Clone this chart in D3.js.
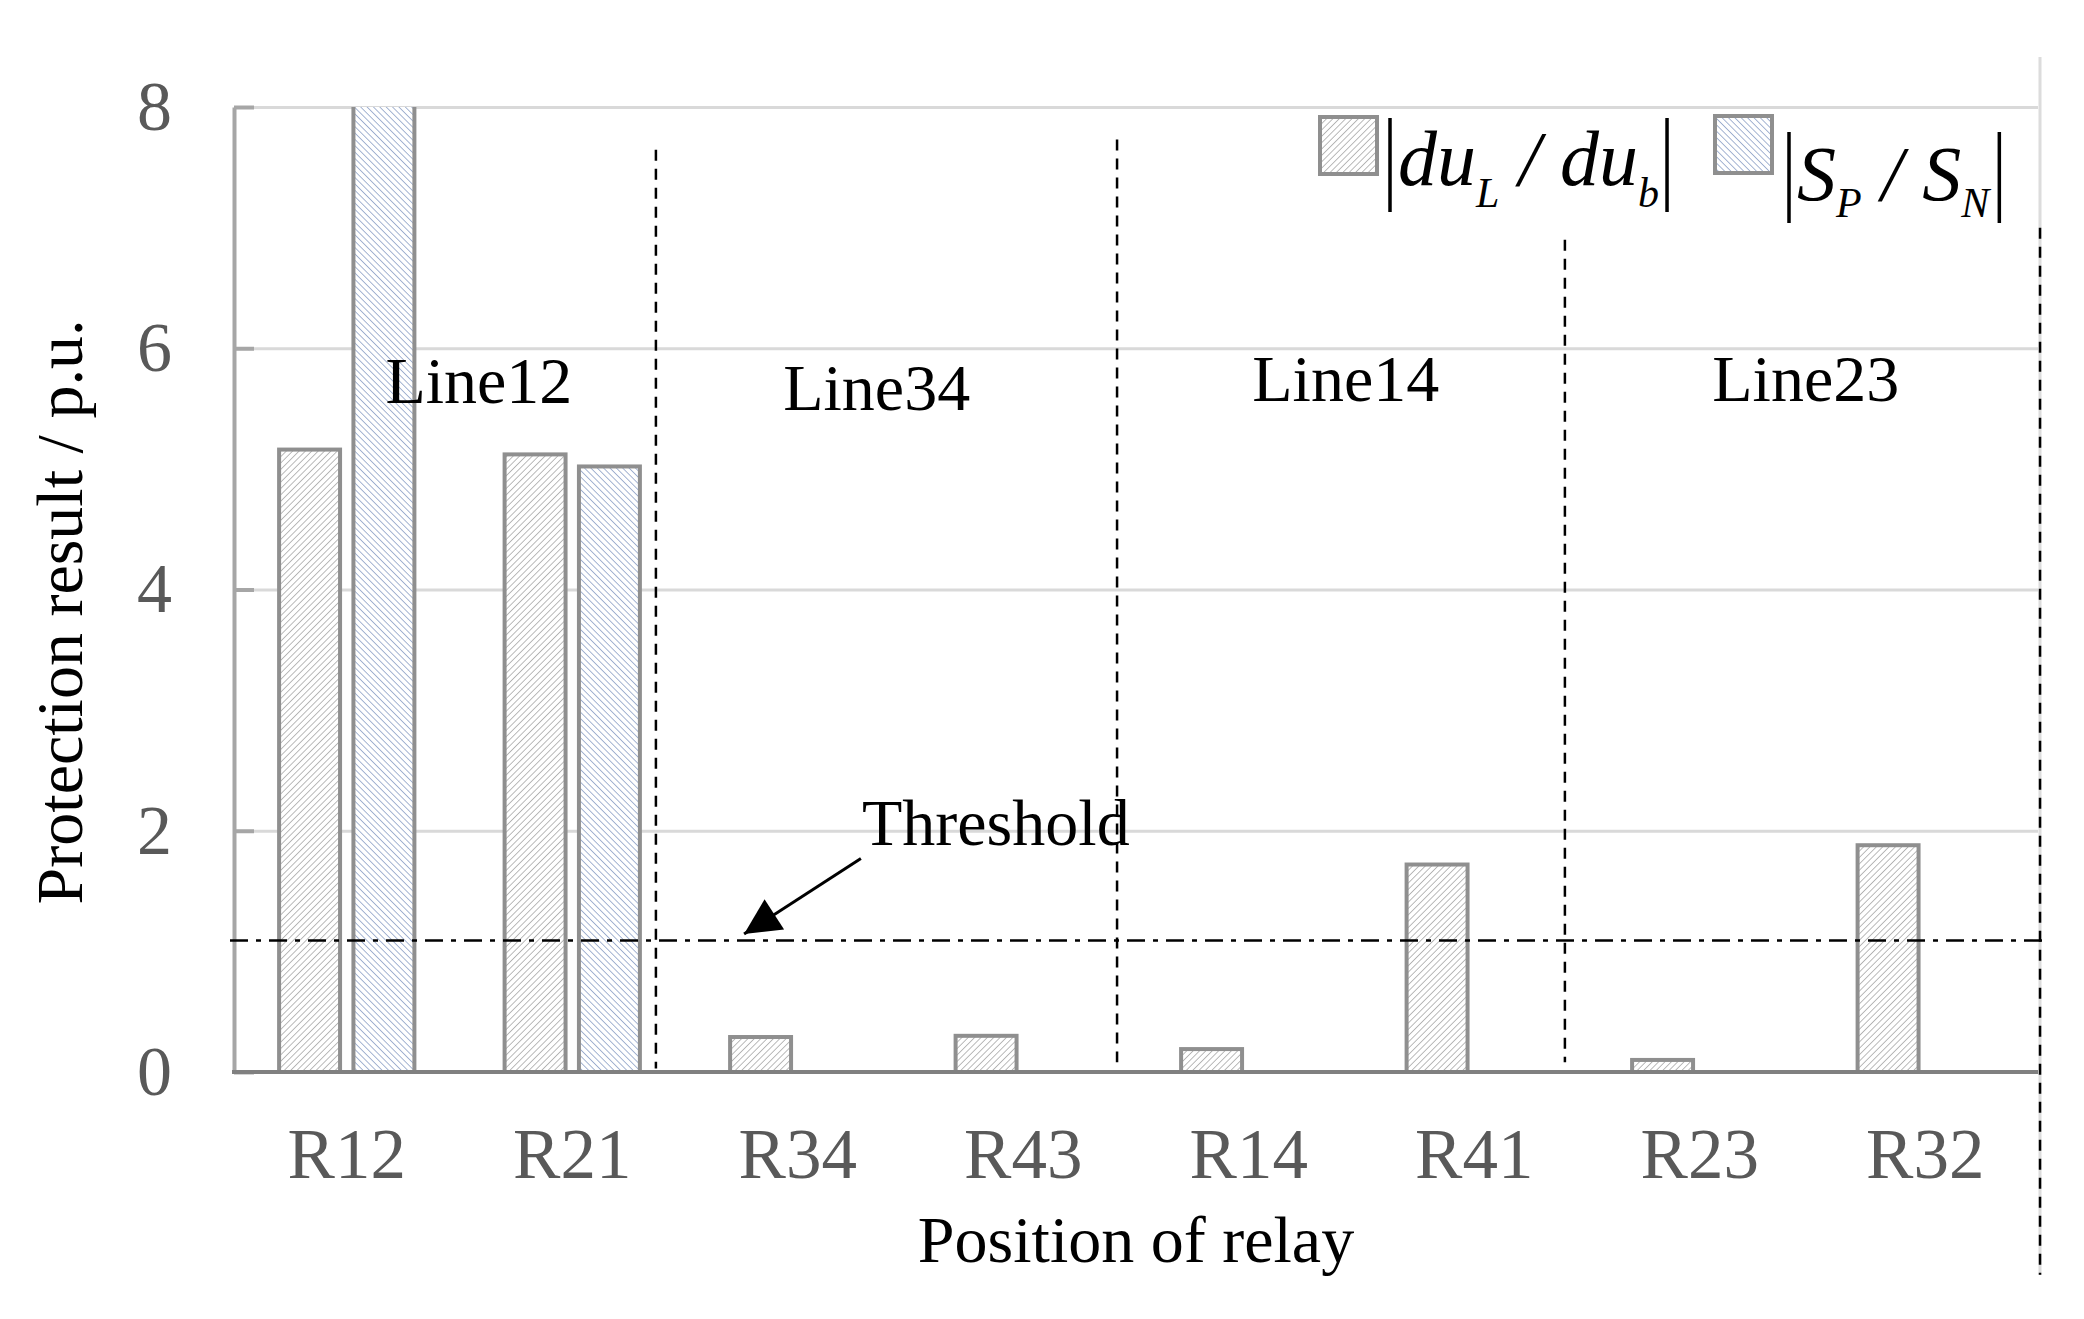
<!DOCTYPE html>
<html lang="en">
	<head>
		<meta charset="utf-8">
		<title>Protection result</title>
		<script type="text/javascript" src="https://cdn.jsdelivr.net/npm/d3@7/dist/d3.min.js"></script>
		<style type="text/css">
			body { margin: 0; background: #fff; }
			text { font-family: "Liberation Serif", "Times New Roman", serif; }
		</style>
	</head>
	<body>
		<script type="text/javascript">
			var w = 2084;
			var h = 1319;

			// data
			var relays = ["R12", "R21", "R34", "R43", "R14", "R41", "R23", "R32"];
			var duRatio = [5.16, 5.12, 0.29, 0.30, 0.19, 1.72, 0.10, 1.88];
			var spRatio = [8.6, 5.02, 0, 0, 0, 0, 0, 0];   // R12 runs off the top
			var yTicks = [0, 2, 4, 6, 8];
			var threshold = 1.09;

			// line groups (positions in category units / y units)
			var lineNames = ["Line12", "Line34", "Line14", "Line23"];
			var lineLabelX = [1.086, 2.85, 4.93, 6.97];
			var lineLabelY = [5.55, 5.49, 5.56, 5.56];
			var sepX = [1.871, 3.916, 5.902, 8.009];
			var sepTop = [7.645, 7.73, 6.9, 7.0];
			var sepBottom = [0.03, 0.08, 0.08, -1.68];

			var pLeft = 234, pRight = 2038, pTop = 107, pBottom = 1072;

			var svg = d3.select("body")
				.append("svg")
				.attr("width", w)
				.attr("height", h);

			// hatch patterns
			var defs = svg.append("defs");
			defs.append("pattern")
				.attr("id", "hatchGray")
				.attr("patternUnits", "userSpaceOnUse")
				.attr("width", 4.5).attr("height", 4.5)
				.attr("patternTransform", "rotate(45)")
				.call(function(p) {
					p.append("rect").attr("width", 4.5).attr("height", 4.5).attr("fill", "#fff");
					p.append("line").attr("x1", 0).attr("y1", 0).attr("x2", 0).attr("y2", 4.5)
						.attr("stroke", "#a9a9a9").attr("stroke-width", 1.6);
				});
			defs.append("pattern")
				.attr("id", "hatchBlue")
				.attr("patternUnits", "userSpaceOnUse")
				.attr("width", 4.5).attr("height", 4.5)
				.attr("patternTransform", "rotate(-45)")
				.call(function(p) {
					p.append("rect").attr("width", 4.5).attr("height", 4.5).attr("fill", "#fff");
					p.append("line").attr("x1", 0).attr("y1", 0).attr("x2", 0).attr("y2", 4.5)
						.attr("stroke", "#8fa3c8").attr("stroke-width", 1.6);
				});
			defs.append("clipPath")
				.attr("id", "plotClip")
				.append("rect")
				.attr("x", pLeft - 10).attr("y", pTop)
				.attr("width", pRight - pLeft + 20).attr("height", pBottom - pTop + 10);

			var x0 = d3.scaleBand().domain(relays).range([pLeft, pRight]);
			var x1 = d3.scaleBand().domain([0, 1])
				.range([x0.bandwidth() * 0.2, x0.bandwidth() * 0.8])
				.paddingInner(0.18);
			var xc = d3.scaleLinear().domain([0, relays.length]).range([pLeft, pRight]);
			var y = d3.scaleLinear().domain([0, 8]).range([pBottom, pTop]);

			// frame line on the right
			svg.append("line")
				.attr("x1", pRight + 2).attr("x2", pRight + 2)
				.attr("y1", 57).attr("y2", 1275)
				.attr("stroke", "#dcdcdc").attr("stroke-width", 3);

			// gridlines
			svg.append("g")
				.attr("transform", "translate(" + pLeft + ",0)")
				.call(d3.axisLeft(y).tickValues(yTicks.slice(1)).tickSize(-(pRight - pLeft)).tickFormat(""))
				.call(function(g) {
					g.select(".domain").remove();
					g.selectAll("line").attr("stroke", "#d9d9d9").attr("stroke-width", 3);
				});

			// bars
			var rows = relays.map(function(r, i) {
				return { relay: r, vals: [duRatio[i], spRatio[i]] };
			});
			var fills = ["url(#hatchGray)", "url(#hatchBlue)"];

			svg.append("g")
				.attr("clip-path", "url(#plotClip)")
				.selectAll("g")
				.data(rows)
				.enter()
				.append("g")
				.attr("transform", function(d) { return "translate(" + x0(d.relay) + ",0)"; })
				.selectAll("rect")
				.data(function(d) {
					return d.vals.map(function(v, k) { return { k: k, v: v }; })
						.filter(function(e) { return e.v > 0; });
				})
				.enter()
				.append("rect")
				.attr("x", function(d) { return x1(d.k); })
				.attr("y", function(d) { return y(d.v); })
				.attr("width", x1.bandwidth())
				.attr("height", function(d) { return y(0) - y(d.v); })
				.attr("fill", function(d) { return fills[d.k]; })
				.attr("stroke", "#8f8f8f")
				.attr("stroke-width", 4);

			// y axis
			svg.append("g")
				.attr("transform", "translate(" + pLeft + ",0)")
				.call(d3.axisLeft(y).tickValues(yTicks).tickSize(-20).tickSizeOuter(0).tickPadding(62))
				.call(function(g) {
					g.select(".domain").attr("stroke", "#a6a6a6").attr("stroke-width", 4);
					g.selectAll(".tick line").attr("stroke", "#a6a6a6").attr("stroke-width", 4);
					g.selectAll(".tick text")
						.attr("font-family", "Liberation Serif")
						.attr("font-size", "70px")
						.attr("fill", "#595959");
				});

			// x axis
			svg.append("g")
				.attr("transform", "translate(0," + pBottom + ")")
				.call(d3.axisBottom(x0).tickSize(0).tickSizeOuter(0))
				.call(function(g) {
					g.select(".domain").attr("stroke", "#808080").attr("stroke-width", 4)
						.attr("d", "M" + (pLeft - 2) + ",0H" + pRight);
					g.selectAll(".tick text")
						.attr("y", 106).attr("dy", null)
						.attr("font-family", "Liberation Serif")
						.attr("font-size", "71px")
						.attr("fill", "#595959");
				});

			// separators between lines
			svg.selectAll(".sep")
				.data(sepX)
				.enter()
				.append("line")
				.attr("class", "sep")
				.attr("x1", function(d) { return xc(d); })
				.attr("x2", function(d) { return xc(d); })
				.attr("y1", function(d, i) { return y(sepTop[i]); })
				.attr("y2", function(d, i) { return y(sepBottom[i]); })
				.attr("stroke", "#000")
				.attr("stroke-width", 2.5)
				.attr("stroke-dasharray", "11,8");

			// threshold
			svg.append("line")
				.attr("x1", pLeft - 4).attr("x2", pRight + 4)
				.attr("y1", y(threshold)).attr("y2", y(threshold))
				.attr("stroke", "#000")
				.attr("stroke-width", 2.5)
				.attr("stroke-dasharray", "18,8,5,8");

			defs.append("marker")
				.attr("id", "arrow")
				.attr("viewBox", "0 0 10 10")
				.attr("refX", 10).attr("refY", 5)
				.attr("markerWidth", 15).attr("markerHeight", 12)
				.attr("markerUnits", "strokeWidth")
				.attr("orient", "auto")
				.append("path")
				.attr("d", "M0,0L10,5L0,10Z")
				.attr("fill", "#000");

			svg.append("line")
				.attr("x1", xc(2.78)).attr("y1", y(1.77))
				.attr("x2", xc(2.262)).attr("y2", y(1.144))
				.attr("stroke", "#000")
				.attr("stroke-width", 3)
				.attr("marker-end", "url(#arrow)");

			svg.append("text")
				.attr("x", xc(2.785))
				.attr("y", y(1.88))
				.attr("font-size", "66px")
				.attr("fill", "#000")
				.text("Threshold");

			// line names
			svg.selectAll(".lineName")
				.data(lineNames)
				.enter()
				.append("text")
				.attr("class", "lineName")
				.attr("x", function(d, i) { return xc(lineLabelX[i]); })
				.attr("y", function(d, i) { return y(lineLabelY[i]); })
				.attr("text-anchor", "middle")
				.attr("font-size", "66px")
				.attr("fill", "#000")
				.text(function(d) { return d; });

			// axis titles
			svg.append("text")
				.attr("transform", "translate(82,612) rotate(-90)")
				.attr("text-anchor", "middle")
				.attr("font-size", "66px")
				.attr("fill", "#000")
				.text("Protection result / p.u.");

			svg.append("text")
				.attr("x", (pLeft + pRight) / 2)
				.attr("y", 1262)
				.attr("text-anchor", "middle")
				.attr("font-size", "66px")
				.attr("fill", "#000")
				.text("Position of relay");

			// legend
			var legend = [
				{ fill: fills[0], bx: 1320, by: 117, tx: 1398, ty: 185, sub: 22, barTop: 118, barBot: 212,
				  parts: [["du", 0], ["L", 1], [" / ", 0], ["du", 0], ["b", 1]] },
				{ fill: fills[1], bx: 1715, by: 116, tx: 1797, ty: 200, sub: 17, barTop: 132, barBot: 223,
				  parts: [["S", 0], ["P", 1], [" / ", 0], ["S", 0], ["N", 1]] }
			];

			legend.forEach(function(L) {
				svg.append("rect")
					.attr("x", L.bx).attr("y", L.by)
					.attr("width", 57).attr("height", 57)
					.attr("fill", L.fill)
					.attr("stroke", "#8f8f8f")
					.attr("stroke-width", 4);

				var t = svg.append("text")
					.attr("x", L.tx).attr("y", L.ty)
					.attr("font-style", "italic")
					.attr("font-size", "78px")
					.attr("fill", "#000")
					.attr("xml:space", "preserve")
					.style("white-space", "pre");
				var level = 0;
				L.parts.forEach(function(p) {
					var shift = (p[1] - level) * L.sub;
					level = p[1];
					t.append("tspan")
						.attr("dy", shift)
						.attr("font-size", p[1] ? "42px" : "78px")
						.text(p[0]);
				});
				var bb = t.node().getBBox();
				[bb.x - 8, bb.x + bb.width + 8].forEach(function(bx) {
					svg.append("line")
						.attr("x1", bx).attr("x2", bx)
						.attr("y1", L.barTop).attr("y2", L.barBot)
						.attr("stroke", "#000")
						.attr("stroke-width", 3.5);
				});
			});
		</script>
	</body>
</html>
